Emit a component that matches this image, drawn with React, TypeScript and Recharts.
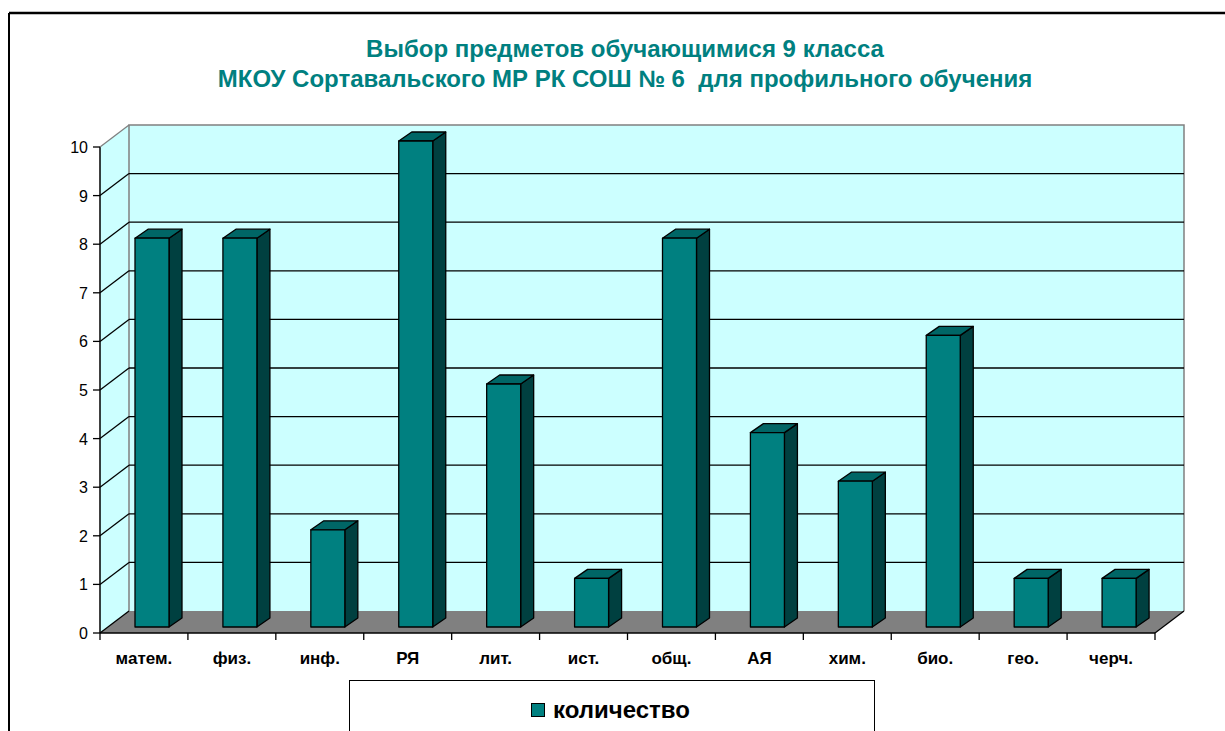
import React from 'react'
import { BarChart, Bar, XAxis, YAxis, CartesianGrid } from 'recharts'

const SUBJECTS = ['матем.', 'физ.', 'инф.', 'РЯ', 'лит.', 'ист.', 'общ.', 'АЯ', 'хим.', 'био.', 'гео.', 'черч.']
const COUNTS = [8, 8, 2, 10, 5, 1, 8, 4, 3, 6, 1, 1]
const Y_TICKS = [0, 1, 2, 3, 4, 5, 6, 7, 8, 9, 10]
const GRID_VALUES = [1, 2, 3, 4, 5, 6, 7, 8, 9]
const SERIES_NAME = 'количество'
const TITLE_LINES = ['Выбор предметов обучающимися 9 класса', 'МКОУ Сортавальского МР РК СОШ № 6  для профильного обучения']

const data = SUBJECTS.map((name, i) => ({ name, value: COUNTS[i] }))

// layout of the back wall (plot area) and the 3d shift toward the viewer
const W = 1225
const H = 731
const LEFT = 129
const TOP = 125
const RIGHT = 1184
const BOTTOM = 611
const DX = 29
const DY = 22
const BAND = (RIGHT - LEFT) / SUBJECTS.length

const FONT = '"Liberation Sans", Arial, sans-serif'
const TEAL = '#008080'
const WALL = '#CCFFFF'
const GREY = '#808080'

// 3d column: front face sits between the front axis and the back wall
const Column = (props: any) => {
  const { x, y, width, height } = props
  if (height == null || height <= 0) return null
  const fx = x - 21
  const fy = y + 16
  const d = 13
  const e = 9
  return (
    <g stroke="#000" strokeWidth={1.3} strokeLinejoin="round">
      <polygon points={`${fx + width},${fy} ${fx + width + d},${fy - e} ${fx + width + d},${fy + height - e} ${fx + width},${fy + height}`} fill="#004040" />
      <polygon points={`${fx},${fy} ${fx + width},${fy} ${fx + width + d},${fy - e} ${fx + d},${fy - e}`} fill="#006666" />
      <rect x={fx} y={fy} width={width} height={height} fill={TEAL} />
    </g>
  )
}

const YTick = (props: any) => {
  const { x, y, payload } = props
  const fx = x - DX
  const fy = y + DY
  return (
    <g>
      <line x1={x} y1={y} x2={fx} y2={fy} stroke={payload.value === 10 ? GREY : '#000'} strokeWidth={1.3} />
      <line x1={fx - 7} y1={fy} x2={fx} y2={fy} stroke="#000" strokeWidth={1.3} />
      <text x={fx - 12} y={fy + 6} textAnchor="end" fontFamily={FONT} fontSize={16} fill="#000">
        {payload.value}
      </text>
    </g>
  )
}

const XTick = (props: any) => {
  const { x, y, payload, index } = props
  const half = payload.offset || BAND / 2
  const cx = x - DX
  const fy = y + DY
  return (
    <g>
      <line x1={cx - half} y1={fy} x2={cx - half} y2={fy + 7} stroke="#000" strokeWidth={1.3} />
      {index === SUBJECTS.length - 1 && (
        <line x1={cx + half} y1={fy} x2={cx + half} y2={fy + 7} stroke="#000" strokeWidth={1.3} />
      )}
      <text x={cx} y={fy + 31} textAnchor="middle" fontFamily={FONT} fontWeight="bold" fontSize={17} fill="#000">
        {payload.value}
      </text>
    </g>
  )
}

export default function App() {
  return (
    <div style={{ position: 'absolute', left: 0, top: 0, width: W, height: H, overflow: 'hidden', background: '#fff' }}>
      <svg width={W} height={H} style={{ position: 'absolute', left: 0, top: 0 }}>
        <line x1={9} y1={13} x2={W} y2={13} stroke="#000" strokeWidth={2.5} />
        <line x1={9} y1={13} x2={9} y2={H} stroke="#000" strokeWidth={2} />
        <rect x={LEFT} y={TOP} width={RIGHT - LEFT} height={BOTTOM - TOP} fill={WALL} />
        <polygon points={`${LEFT - DX},${TOP + DY} ${LEFT},${TOP} ${LEFT},${BOTTOM} ${LEFT - DX},${BOTTOM + DY}`} fill={WALL} />
        <polygon points={`${LEFT - DX},${BOTTOM + DY} ${RIGHT - DX},${BOTTOM + DY} ${RIGHT},${BOTTOM} ${LEFT},${BOTTOM}`} fill={GREY} />
        <polyline points={`${LEFT},${BOTTOM} ${LEFT},${TOP} ${RIGHT},${TOP} ${RIGHT},${BOTTOM}`} fill="none" stroke={GREY} strokeWidth={1.5} />
        <line x1={RIGHT - DX} y1={BOTTOM + DY} x2={RIGHT} y2={BOTTOM} stroke="#000" strokeWidth={1.3} />
        <line x1={LEFT - DX} y1={TOP + DY} x2={LEFT - DX} y2={BOTTOM + DY} stroke="#000" strokeWidth={1.5} />
        <line x1={LEFT - DX} y1={BOTTOM + DY} x2={RIGHT - DX} y2={BOTTOM + DY} stroke="#000" strokeWidth={1.5} />
      </svg>

      <div style={{ position: 'absolute', left: 0, top: 0 }}>
        <BarChart width={W} height={H} data={data} margin={{ top: TOP, right: W - RIGHT, bottom: H - BOTTOM - 30, left: LEFT - 30 }}>
          <CartesianGrid vertical={false} horizontalValues={GRID_VALUES} stroke="#000" strokeWidth={1.3} />
          <XAxis dataKey="name" height={30} axisLine={false} tickLine={false} tickSize={0} tickMargin={0} interval={0} tick={<XTick />} />
          <YAxis width={30} domain={[0, 10]} ticks={Y_TICKS} interval={0} axisLine={false} tickLine={false} tickSize={0} tickMargin={0} tick={<YTick />} />
          <Bar dataKey="value" name={SERIES_NAME} barSize={34} fill={TEAL} shape={<Column />} isAnimationActive={false} />
        </BarChart>
      </div>

      <div style={{ position: 'absolute', left: 0, width: 1250, top: 34, textAlign: 'center', fontFamily: FONT, fontWeight: 'bold', fontSize: 24, lineHeight: '30px', color: TEAL }}>
        {TITLE_LINES.map((t) => (
          <div key={t} style={{ whiteSpace: 'pre' }}>{t}</div>
        ))}
      </div>

      <div style={{ position: 'absolute', left: 349, top: 680, width: 524, height: 70, border: '1.5px solid #000', background: '#fff', fontFamily: FONT }}>
        <div style={{ position: 'absolute', left: 181, top: 15, display: 'flex', alignItems: 'center' }}>
          <span style={{ display: 'inline-block', width: 12, height: 12, background: TEAL, border: '1px solid #000', marginRight: 8 }} />
          <span style={{ fontWeight: 'bold', fontSize: 24, color: '#000' }}>{SERIES_NAME}</span>
        </div>
      </div>
    </div>
  )
}
